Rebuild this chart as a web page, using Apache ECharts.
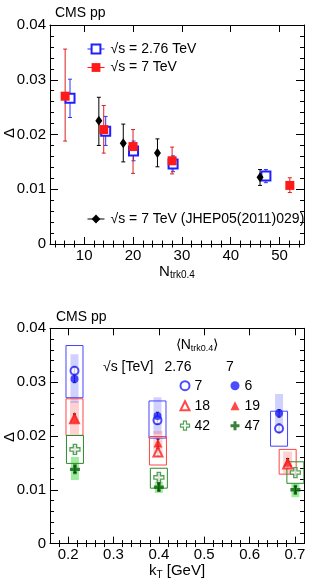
<!DOCTYPE html>
<html><head><meta charset="utf-8">
<script src="https://cdn.jsdelivr.net/npm/echarts@6/dist/echarts.min.js"></script>
<style>html,body{margin:0;padding:0;background:#fff}#c{width:311px;height:581px}</style>
</head><body><div id="c"></div>
<script>
// ---------------- Top panel data (Delta vs N_trk0.4) ----------------
const topX276 = [7.1, 14.4, 20.1, 28.2, 47.2];
const topY276 = [0.0266, 0.0206, 0.0170, 0.0146, 0.0124];
const topLo276 = [0.0231, 0.0180, 0.0152, 0.0132, 0.0112];
const topHi276 = [0.0301, 0.0233, 0.0188, 0.0161, 0.0136];

const topX7 = [6.1, 14.0, 20.0, 28.0, 52.1];
const topY7 = [0.0270, 0.0209, 0.0178, 0.0152, 0.0107];
const topLo7 = [0.0188, 0.0166, 0.0129, 0.0128, 0.0094];
const topHi7 = [0.0356, 0.0253, 0.0209, 0.0177, 0.0121];

const topXold = [13.0, 18.0, 25.0, 46.0];
const topYold = [0.0225, 0.0184, 0.0166, 0.0122];
const topLoOld = [0.0180, 0.0150, 0.0141, 0.0107];
const topHiOld = [0.0268, 0.0219, 0.0192, 0.0136];

const topXMajor = [10, 20, 30, 40, 50];
const topXMinor = [4, 6, 8, 12, 14, 16, 18, 22, 24, 26, 28, 32, 34, 36, 38, 42, 44, 46, 48, 52, 54];

// ---------------- Bottom panel data (Delta vs kT) ----------------
// 2.76 TeV, <N>=7 (open circle)
const kT_a = [0.214, 0.397, 0.665];
const val_a = [0.0321, 0.0229, 0.0214];
const stat_a = [0.0007, 0.0007, 0.0008];
const sysLo_a = [0.0271, 0.0196, 0.0181];
const sysHi_a = [0.0368, 0.0265, 0.0246];
// 7 TeV, <N>=6 (filled circle)
const kT_b = [0.214, 0.397, 0.665];
const val_b = [0.0306, 0.0237, 0.0242];
const stat_b = [0.0007, 0.0007, 0.0007];
const sysLo_b = [0.0261, 0.0203, 0.0206];
const sysHi_b = [0.0352, 0.0272, 0.0278];
// 2.76 TeV, <N>=18 (open triangle)
const kT_c = [0.214, 0.398, 0.684];
const val_c = [0.0232, 0.0170, 0.0148];
const stat_c = [0.0007, 0.0007, 0.0007];
const sysLo_c = [0.0201, 0.0146, 0.0129];
const sysHi_c = [0.0269, 0.0199, 0.0175];
// 7 TeV, <N>=19 (filled triangle)
const kT_d = [0.214, 0.398, 0.684];
const val_d = [0.0233, 0.0187, 0.0151];
const stat_d = [0.0008, 0.0007, 0.0007];
const sysLo_d = [0.0203, 0.0165, 0.0130];
const sysHi_d = [0.0265, 0.0209, 0.0171];
// 2.76 TeV, <N>=42 (open cross)
const kT_e = [0.215, 0.400, 0.701];
const val_e = [0.0175, 0.0123, 0.0132];
const stat_e = [0.0006, 0.0006, 0.0006];
const sysLo_e = [0.0149, 0.0103, 0.0112];
const sysHi_e = [0.0201, 0.0140, 0.0152];
// 7 TeV, <N>=47 (filled cross)
const kT_f = [0.215, 0.400, 0.701];
const val_f = [0.0138, 0.0105, 0.0100];
const stat_f = [0.0006, 0.0006, 0.0006];
const sysLo_f = [0.0118, 0.0094, 0.0086];
const sysHi_f = [0.0161, 0.0115, 0.0111];

const botXMajor = [0.2, 0.3, 0.4, 0.5, 0.6, 0.7];
const botXMinor = [0.18, 0.22, 0.24, 0.26, 0.28, 0.32, 0.34, 0.36, 0.38, 0.42, 0.44, 0.46, 0.48,
                   0.52, 0.54, 0.56, 0.58, 0.62, 0.64, 0.66, 0.68];

const nLabels276 = ['7', '18', '42'];
const nLabels7 = ['6', '19', '47'];

// ---------------- helpers ----------------
const FONT = 'Liberation Sans, Arial, Helvetica, sans-serif';
const zip2 = (xs, ys) => xs.map((x, i) => [x, ys[i]]);
const zip3 = (xs, a, b) => xs.map((x, i) => [x, a[i], b[i]]);
const statBars = (xs, v, e) => xs.map((x, i) => [x, v[i] - e[i], v[i] + e[i]]);

function errRender(color, cap, width) {
  return function (params, api) {
    const x = api.value(0), lo = api.value(1), hi = api.value(2);
    const a = api.coord([x, lo]), b = api.coord([x, hi]);
    const st = { stroke: color, lineWidth: width || 1 };
    return { type: 'group', children: [
      { type: 'line', shape: { x1: a[0], y1: a[1], x2: b[0], y2: b[1] }, style: st },
      { type: 'line', shape: { x1: a[0] - cap, y1: a[1], x2: a[0] + cap, y2: a[1] }, style: st },
      { type: 'line', shape: { x1: b[0] - cap, y1: b[1], x2: b[0] + cap, y2: b[1] }, style: st }
    ]};
  };
}
function boxRender(halfPx, fill, stroke) {
  return function (params, api) {
    const x = api.value(0), lo = api.value(1), hi = api.value(2);
    const a = api.coord([x, hi]), b = api.coord([x, lo]);
    return { type: 'rect', shape: { x: a[0] - halfPx, y: a[1], width: 2 * halfPx, height: b[1] - a[1] },
      style: { fill: fill || 'none', stroke: stroke || 'none', lineWidth: 1 } };
  };
}
function customSeries(name, data, render, xi, yi, z) {
  return { type: 'custom', name: name, xAxisIndex: xi, yAxisIndex: yi, data: data, renderItem: render,
    encode: { x: 0, y: [1, 2] }, clip: true, silent: true, z: z, animation: false };
}

function xAxes(grid, min, max, major, minor, name, nameGap) {
  const tickStyle = { color: '#000', width: 1 };
  const base = { type: 'value', gridIndex: grid, min: min, max: max, splitLine: { show: false } };
  return [
    Object.assign({}, base, { position: 'bottom',
      axisLine: { show: true, onZero: false, lineStyle: tickStyle },
      axisTick: { show: true, inside: true, length: 7, customValues: major, lineStyle: tickStyle },
      axisLabel: { show: true, customValues: major, fontSize: 15, color: '#000', fontFamily: FONT, margin: 4 },
      name: name, nameLocation: 'middle', nameGap: nameGap,
      nameTextStyle: { color: '#000', fontFamily: FONT, fontSize: 15,
        rich: { n: { fontSize: 15, fontFamily: FONT, color: '#000' },
                s: { fontSize: 10, fontFamily: FONT, color: '#000', padding: [8, 0, 0, 0] } } } }),
    Object.assign({}, base, { position: 'bottom', axisLine: { show: false },
      axisTick: { show: true, inside: true, length: 3.5, customValues: minor, lineStyle: tickStyle },
      axisLabel: { show: false } }),
    Object.assign({}, base, { position: 'top',
      axisLine: { show: true, onZero: false, lineStyle: tickStyle },
      axisTick: { show: true, inside: true, length: 7, customValues: major, lineStyle: tickStyle },
      axisLabel: { show: false } }),
    Object.assign({}, base, { position: 'top', axisLine: { show: false },
      axisTick: { show: true, inside: true, length: 3.5, customValues: minor, lineStyle: tickStyle },
      axisLabel: { show: false } })
  ];
}
function yAxes(grid) {
  const tickStyle = { color: '#000', width: 1 };
  const base = { type: 'value', gridIndex: grid, min: 0, max: 0.04, interval: 0.01, splitLine: { show: false },
    axisLine: { show: true, onZero: false, lineStyle: tickStyle },
    axisTick: { show: true, inside: true, length: 8, lineStyle: tickStyle },
    minorTick: { show: true, splitNumber: 5, length: 4, lineStyle: tickStyle },
    minorSplitLine: { show: false } };
  return [
    Object.assign({}, base, { position: 'left',
      axisLabel: { fontSize: 15, color: '#000', fontFamily: FONT, margin: 4 } }),
    Object.assign({}, base, { position: 'right', axisLabel: { show: false } })
  ];
}

const crossPath = 'path://M-1,-3H1V-1H3V1H1V3H-1V1H-3V-1H-1Z';
const BLUE = '#1f1fff', RED = '#ff1a1a', GREEN_O = '#2a8a2a', GREEN_F = '#0a5f0a';

const chart = echarts.init(document.getElementById('c'), null, { renderer: 'canvas' });

const series = [
  // ---- top panel ----
  customSeries('err276', zip3(topX276, topLo276, topHi276), errRender('#3030ff', 2), 0, 0, 2),
  customSeries('errOld', zip3(topXold, topLoOld, topHiOld), errRender('#000', 2), 0, 0, 2),
  customSeries('err7', zip3(topX7, topLo7, topHi7), errRender('#d82020', 2), 0, 0, 2),
  { type: 'line', name: '√s = 2.76 TeV', xAxisIndex: 0, yAxisIndex: 0, data: zip2(topX276, topY276),
    symbol: 'emptyRect', symbolSize: 9, showSymbol: true, lineStyle: { opacity: 0 },
    itemStyle: { color: BLUE, borderColor: BLUE, borderWidth: 1.3 }, z: 3, animation: false, silent: true },
  { type: 'line', name: '√s = 7 TeV (JHEP05(2011)029)', xAxisIndex: 0, yAxisIndex: 0, data: zip2(topXold, topYold),
    symbol: 'diamond', symbolSize: [7, 10], lineStyle: { opacity: 0 },
    itemStyle: { color: '#000' }, z: 3, animation: false, silent: true },
  { type: 'line', name: '√s = 7 TeV', xAxisIndex: 0, yAxisIndex: 0, data: zip2(topX7, topY7),
    symbol: 'rect', symbolSize: 9, lineStyle: { opacity: 0 },
    itemStyle: { color: RED }, z: 4, animation: false, silent: true },

  // ---- bottom panel: shaded systematic bands (7 TeV) ----
  customSeries('sys_b', zip3(kT_b, sysLo_b, sysHi_b), boxRender(4, 'rgba(70,70,255,0.25)'), 4, 2, 1),
  customSeries('sys_d', zip3(kT_d, sysLo_d, sysHi_d), boxRender(4.5, 'rgba(255,70,70,0.25)'), 4, 2, 1),
  customSeries('sys_f', zip3(kT_f, sysLo_f, sysHi_f), boxRender(4, 'rgba(40,215,40,0.45)'), 4, 2, 1),
  // ---- open systematic boxes (2.76 TeV) ----
  customSeries('sys_a', zip3(kT_a, sysLo_a, sysHi_a), boxRender(8.5, null, '#4444ff'), 4, 2, 2),
  customSeries('sys_c', zip3(kT_c, sysLo_c, sysHi_c), boxRender(8.5, null, '#ff4444'), 4, 2, 2),
  customSeries('sys_e', zip3(kT_e, sysLo_e, sysHi_e), boxRender(8.5, null, '#2a8a2a'), 4, 2, 2),
  // ---- stat error bars ----
  customSeries('st_a', statBars(kT_a, val_a, stat_a), errRender('#000', 1.5), 4, 2, 3),
  customSeries('st_b', statBars(kT_b, val_b, stat_b), errRender('#000', 1.5), 4, 2, 3),
  customSeries('st_c', statBars(kT_c, val_c, stat_c), errRender('#000', 1.5), 4, 2, 3),
  customSeries('st_d', statBars(kT_d, val_d, stat_d), errRender('#000', 1.5), 4, 2, 3),
  customSeries('st_e', statBars(kT_e, val_e, stat_e), errRender('#000', 1.5), 4, 2, 3),
  customSeries('st_f', statBars(kT_f, val_f, stat_f), errRender('#000', 1.5), 4, 2, 3),
  // ---- points ----
  { type: 'scatter', name: 'a', xAxisIndex: 4, yAxisIndex: 2, data: zip2(kT_a, val_a), symbol: 'emptyCircle',
    symbolSize: 8, itemStyle: { color: BLUE, borderWidth: 1.3 }, z: 4, animation: false, silent: true },
  { type: 'scatter', name: 'c', xAxisIndex: 4, yAxisIndex: 2, data: zip2(kT_c, val_c), symbol: 'emptyTriangle',
    symbolSize: 9, itemStyle: { color: RED, borderWidth: 1.3 }, z: 4, animation: false, silent: true },
  { type: 'scatter', name: 'e', xAxisIndex: 4, yAxisIndex: 2, data: zip2(kT_e, val_e), symbol: crossPath,
    symbolSize: 10, itemStyle: { color: '#fff', borderColor: GREEN_O, borderWidth: 1.3 }, z: 4, animation: false, silent: true },
  { type: 'scatter', name: 'b', xAxisIndex: 4, yAxisIndex: 2, data: zip2(kT_b, val_b), symbol: 'circle',
    symbolSize: 8, itemStyle: { color: BLUE }, z: 5, animation: false, silent: true },
  { type: 'scatter', name: 'd', xAxisIndex: 4, yAxisIndex: 2, data: zip2(kT_d, val_d), symbol: 'triangle',
    symbolSize: 9, itemStyle: { color: RED }, z: 5, animation: false, silent: true },
  { type: 'scatter', name: 'f', xAxisIndex: 4, yAxisIndex: 2, data: zip2(kT_f, val_f), symbol: crossPath,
    symbolSize: 10, itemStyle: { color: GREEN_F }, z: 5, animation: false, silent: true }
];

const legendText = { fontSize: 14, color: '#000', fontFamily: FONT, lineHeight: 16 };
const nMap = { a: nLabels276[0], c: nLabels276[1], e: nLabels276[2], b: nLabels7[0], d: nLabels7[1], f: nLabels7[2] };

const option = {
  backgroundColor: '#fff',
  animation: false,
  grid: [
    { left: 50, top: 25, width: 254, height: 219 },
    { left: 50, top: 328.3, width: 254, height: 219 }
  ],
  xAxis: [].concat(
    xAxes(0, 3, 55, topXMajor, topXMinor, '{n|N}{s|trk0.4}', 15),
    xAxes(1, 0.16, 0.72, botXMajor, botXMinor, '{n|k}{s|T}{n| [GeV]}', 18)
  ),
  yAxis: [].concat(yAxes(0), yAxes(1)),
  legend: [
    { data: ['√s = 2.76 TeV', '√s = 7 TeV'], left: 82, top: 36, orient: 'vertical', itemWidth: 17, itemHeight: 11,
      itemGap: 2.5, textStyle: Object.assign({ padding: [0, 0, 0, 1] }, legendText), selectedMode: false,
      lineStyle: { opacity: 1, width: 1 }, itemStyle: { borderWidth: 1.3 } },
    { data: ['√s = 7 TeV (JHEP05(2011)029)'], left: 82, top: 206, orient: 'vertical', itemWidth: 17, itemHeight: 11,
      textStyle: Object.assign({ padding: [0, 0, 0, 1] }, legendText), selectedMode: false,
      lineStyle: { opacity: 1, width: 1 }, itemStyle: { borderWidth: 0 } },
    { data: ['a', 'c', 'e'], left: 174.5, top: 372.7, orient: 'vertical', itemWidth: 9, itemHeight: 9, itemGap: 4,
      formatter: n => nMap[n], textStyle: legendText, selectedMode: false, itemStyle: { borderWidth: 1.2 } },
    { data: ['b', 'd', 'f'], left: 225.5, top: 372.7, orient: 'vertical', itemWidth: 9, itemHeight: 9, itemGap: 4,
      formatter: n => nMap[n], textStyle: legendText, selectedMode: false, itemStyle: { borderWidth: 0 } }
  ],
  graphic: [
    { type: 'text', x: 55, y: 13, silent: true,
      style: { text: 'CMS pp', font: '14px ' + FONT, fill: '#000', align: 'left', verticalAlign: 'middle' } },
    { type: 'text', x: 56, y: 317, silent: true,
      style: { text: 'CMS pp', font: '14px ' + FONT, fill: '#000', align: 'left', verticalAlign: 'middle' } },
    { type: 'text', x: 10, y: 133, rotation: Math.PI / 2, silent: true,
      style: { text: 'Δ', font: '15px ' + FONT, fill: '#000', align: 'center', verticalAlign: 'middle' } },
    { type: 'text', x: 10, y: 437, rotation: Math.PI / 2, silent: true,
      style: { text: 'Δ', font: '15px ' + FONT, fill: '#000', align: 'center', verticalAlign: 'middle' } },
    { type: 'text', x: 197, y: 345, silent: true,
      style: { text: '{n|⟨N}{s|trk0.4}{n|⟩}', align: 'center', verticalAlign: 'middle',
        rich: { n: { fontSize: 14, fontFamily: FONT, fill: '#000' },
                s: { fontSize: 9, fontFamily: FONT, fill: '#000', padding: [8, 0, 0, 0] } } } },
    { type: 'text', x: 103, y: 367, silent: true,
      style: { text: '√s [TeV]', font: '14px ' + FONT, fill: '#000', align: 'left', verticalAlign: 'middle' } },
    { type: 'text', x: 178, y: 367, silent: true,
      style: { text: '2.76', font: '14px ' + FONT, fill: '#000', align: 'center', verticalAlign: 'middle' } },
    { type: 'text', x: 230, y: 367, silent: true,
      style: { text: '7', font: '14px ' + FONT, fill: '#000', align: 'center', verticalAlign: 'middle' } }
  ],
  series: series
};
chart.setOption(option);
</script>
</body></html>
